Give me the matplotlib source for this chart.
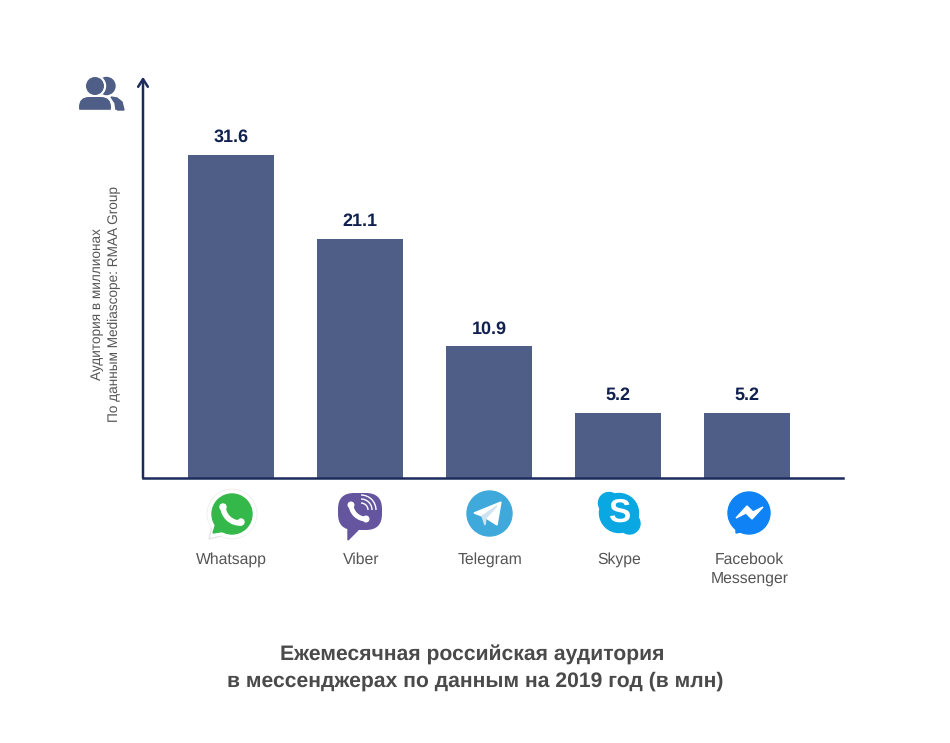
import numpy as np
import matplotlib
matplotlib.use('Agg')
import matplotlib.pyplot as plt
from matplotlib.patches import Circle, FancyBboxPatch, Polygon, Arc, Rectangle

plt.rcParams['font.family'] = ['Liberation Sans', 'DejaVu Sans']
plt.rcParams['text.hinting'] = 'no_hinting'

names = ['Whatsapp', 'Viber', 'Telegram', 'Skype', 'Facebook\nMessenger']
value_labels = ['31.6', '21.1', '10.9', '5.2', '5.2']
# drawn heights, the bars are not to scale with their labels
bar_heights = [31.6, 23.4, 12.9, 6.36, 6.36]

bar_color = '#4f5e86'
axis_color = '#1b2c5c'
W, H = 950, 743

fig = plt.figure(figsize=(W / 100, H / 100), dpi=100, facecolor='white')

# main chart
ax = fig.add_axes([143 / W, 1 - 478 / H, 700 / W, 398 / H])
x = np.arange(len(names))
ax.bar(x, bar_heights, width=0.667, color=bar_color)
ax.set_xlim(-0.684, 4.742)
ax.set_ylim(0, 38.94)
ax.set_xticks([])
ax.set_yticks([])
for s in ['top', 'right', 'left']:
    ax.spines[s].set_visible(False)
ax.spines['bottom'].set_color(axis_color)
ax.spines['bottom'].set_linewidth(1.8)
ax.annotate('', xy=(0, 1.008), xytext=(0, 0), xycoords='axes fraction',
            arrowprops=dict(arrowstyle='->,head_length=0.55,head_width=0.35',
                            color=axis_color, lw=1.8, shrinkA=0, shrinkB=0))

for i in range(len(x)):
    ax.annotate(value_labels[i], (x[i], bar_heights[i]), xytext=(0, 6.5),
                textcoords='offset points', ha='center', va='bottom',
                fontsize=13, fontweight='bold', color='#10204f')

# overlay in pixels for the text around the chart and the icons
ov = fig.add_axes([0, 0, 1, 1], facecolor='none')
ov.set_xlim(0, W)
ov.set_ylim(H, 0)
ov.axis('off')

ov.text(97, 304.5, 'Аудитория в миллионах', rotation=90, ha='center', va='center',
        fontsize=9.8, color='#555555')
ov.text(114, 304.5, 'По данным Mediascope: RMAA Group', rotation=90, ha='center', va='center',
        fontsize=9.8, color='#555555')

centers = [231.5, 361, 490, 619.5, 749.5]
for i in range(len(names)):
    ov.text(centers[i], 559.5 if i != 4 else 569, names[i], ha='center', va='center',
            fontsize=11.3, color='#555555', linespacing=1.35)

ov.text(472, 654.5, 'Ежемесячная российская аудитория', ha='center', va='center',
        fontsize=15.2, fontweight='bold', color='#4a4a4a')
ov.text(475, 681.5, 'в мессенджерах по данным на 2019 год (в млн)', ha='center', va='center',
        fontsize=15.2, fontweight='bold', color='#4a4a4a')

# people icon
ov.add_patch(Circle((106.5, 86), 8.5, color=bar_color))
ov.add_patch(Circle((95, 86), 10.5, color='white'))
ov.add_patch(Polygon([(111, 97), (117, 98), (122, 102), (124, 110), (116, 110), (115, 103)],
                     color=bar_color))
ov.add_patch(Circle((95, 86), 8.3, color=bar_color))
ov.add_patch(FancyBboxPatch((79, 97), 32, 20, boxstyle='round,pad=0,rounding_size=10',
                            fc=bar_color, ec='none'))
ov.add_patch(Rectangle((76, 110), 40, 16, color='white'))

# whatsapp
ov.add_patch(Circle((232, 514), 24.5, fc='white', ec='#e6e6e6', lw=1))
ov.add_patch(Polygon([(209, 539), (213, 522), (226, 535)], fc='white', ec='#e6e6e6', lw=1))
ov.add_patch(Circle((232, 514), 24, color='white'))
ov.add_patch(Circle((232, 514), 20, color='#35b84a'))
ov.add_patch(Polygon([(213, 533), (217, 520), (226, 531)], color='#35b84a'))
ov.add_patch(Arc((240, 506), 34, 34, theta1=85, theta2=185, color='white', lw=4))
ov.add_patch(Circle((223, 507), 3, color='white'))
ov.add_patch(Circle((241, 522), 3, color='white'))

# viber
ov.add_patch(FancyBboxPatch((346, 501), 28, 21, boxstyle='round,pad=8,rounding_size=16',
                            fc='#65559f', ec='none'))
ov.add_patch(Polygon([(348, 540), (348, 528), (358, 530)], color='#65559f'))
ov.add_patch(Arc((366, 504), 30, 30, theta1=85, theta2=185, color='white', lw=3.5))
ov.add_patch(Circle((351, 505), 2.8, color='white'))
ov.add_patch(Circle((366, 519), 2.8, color='white'))
for r in [7, 11, 15]:
    ov.add_patch(Arc((361, 510), 2 * r, 2 * r, theta1=270, theta2=360, color='white', lw=1))

# telegram
ov.add_patch(Circle((489.5, 513.5), 22.5, color='#40a9dc'))
ov.add_patch(Polygon([(474, 513), (501, 502), (497, 525), (486, 518), (482, 516)], color='white'))
ov.add_patch(Polygon([(482, 516), (497, 506), (486, 518), (485, 525)], color='#cfe4f0'))

# skype
ov.add_patch(Circle((619, 513), 19.5, color='#0aa8e2'))
ov.add_patch(Circle((609, 503), 10.5, color='#0aa8e2'))
ov.add_patch(Circle((629.5, 523.5), 10.5, color='#0aa8e2'))
ov.text(619, 513.5, 'S', ha='center', va='center', fontsize=24, fontweight='bold', color='white')

# messenger
ov.add_patch(Circle((749, 513), 21, color='#0f83f5'))
ov.add_patch(Polygon([(736, 533), (736, 524), (745, 531)], color='#0f83f5'))
ov.add_patch(Polygon([(736, 518), (747, 506), (753, 512), (763, 507), (752, 519), (746, 513)],
                     color='white'))

fig.savefig('out.png', dpi=100)
